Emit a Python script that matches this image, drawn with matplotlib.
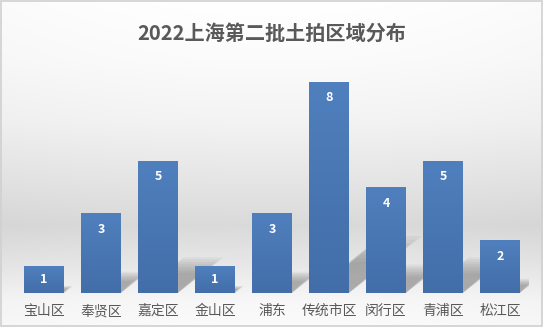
import matplotlib.pyplot as plt
import numpy as np

plt.rcParams['font.family'] = ['Noto Sans CJK SC', 'DejaVu Sans']

districts = ['宝山区', '奉贤区', '嘉定区', '金山区', '浦东', '传统市区', '闵行区', '青浦区', '松江区']
counts = [1, 3, 5, 1, 3, 8, 4, 5, 2]
title = '2022上海第二批土拍区域分布'

fig = plt.figure(figsize=(5.43, 3.27), dpi=100)

# background: vertical gradient, white at top, darker band low down, lighter at the bottom
bg = fig.add_axes([0, 0, 1, 1])
stops_y = [0, 60, 120, 180, 225, 265, 300, 327]
stops_v = [1.0, 0.985, 0.955, 0.90, 0.855, 0.91, 0.97, 0.985]
rows = np.interp(np.arange(327), stops_y, stops_v)
xs = np.linspace(-1, 1, 543)
g = rows[:, None] - 0.015 * xs[None, :] ** 2
g = np.clip(g, 0, 1)
bg.imshow(np.dstack([g, g, g]), aspect='auto', extent=[0, 1, 0, 1])
bg.set_xlim(0, 1)
bg.set_ylim(0, 1)
bg.axis('off')
bg.add_patch(plt.Rectangle((0.001, 0.002), 0.997, 0.995, fill=False, ec='#d0d0d0', lw=1.2))

ax = fig.add_axes([15.5 / 543, 34 / 327, 513 / 543, 211 / 327])
ax.patch.set_alpha(0)
x = np.arange(len(districts))
w = 0.7
top = np.array([0.31, 0.50, 0.74])
bot = np.array([0.26, 0.43, 0.66])
grad = np.linspace(0, 1, 64)[:, None, None]
img = bot * (1 - grad) + top * grad
for xi, c in zip(x, counts):
    # blurred perspective shadow lying behind each bar
    H = 0.27 * c
    s = 0.16 * c
    for k in np.linspace(0, 1, 8):
        hh = H * (0.55 + 0.45 * k)
        ss = s * (0.55 + 0.45 * k)
        sh = 0.06 * (1 - k)
        ax.fill([xi - w / 2 + sh, xi + w / 2 - sh + 0.05 * (1 - k), xi + w / 2 + ss - sh, xi - w / 2 + ss + sh],
                [0, 0, hh, hh], color='#5a5a5a', alpha=0.07, lw=0, zorder=1)
    ax.imshow(img, extent=[xi - w / 2, xi + w / 2, 0, c], origin='lower',
              aspect='auto', zorder=2, interpolation='bicubic')
    ax.text(xi, c - min(0.6, c / 2), str(c), ha='center', va='center', color='white',
            fontsize=9, fontweight='bold', zorder=3)

ax.set_xlim(-0.5, len(districts) - 0.5)
ax.set_ylim(0, 8.0)
ax.set_xticks(x)
ax.set_xticklabels(districts, fontsize=10, color='#595959')
ax.set_yticks([])
ax.tick_params(axis='x', length=0, pad=8)
for s in ax.spines.values():
    s.set_visible(False)

fig.text(0.5, 1 - 33 / 327, title, ha='center', va='center', fontsize=14.5,
         fontweight='bold', color='#595959')

fig.savefig('out.png', dpi=100)
